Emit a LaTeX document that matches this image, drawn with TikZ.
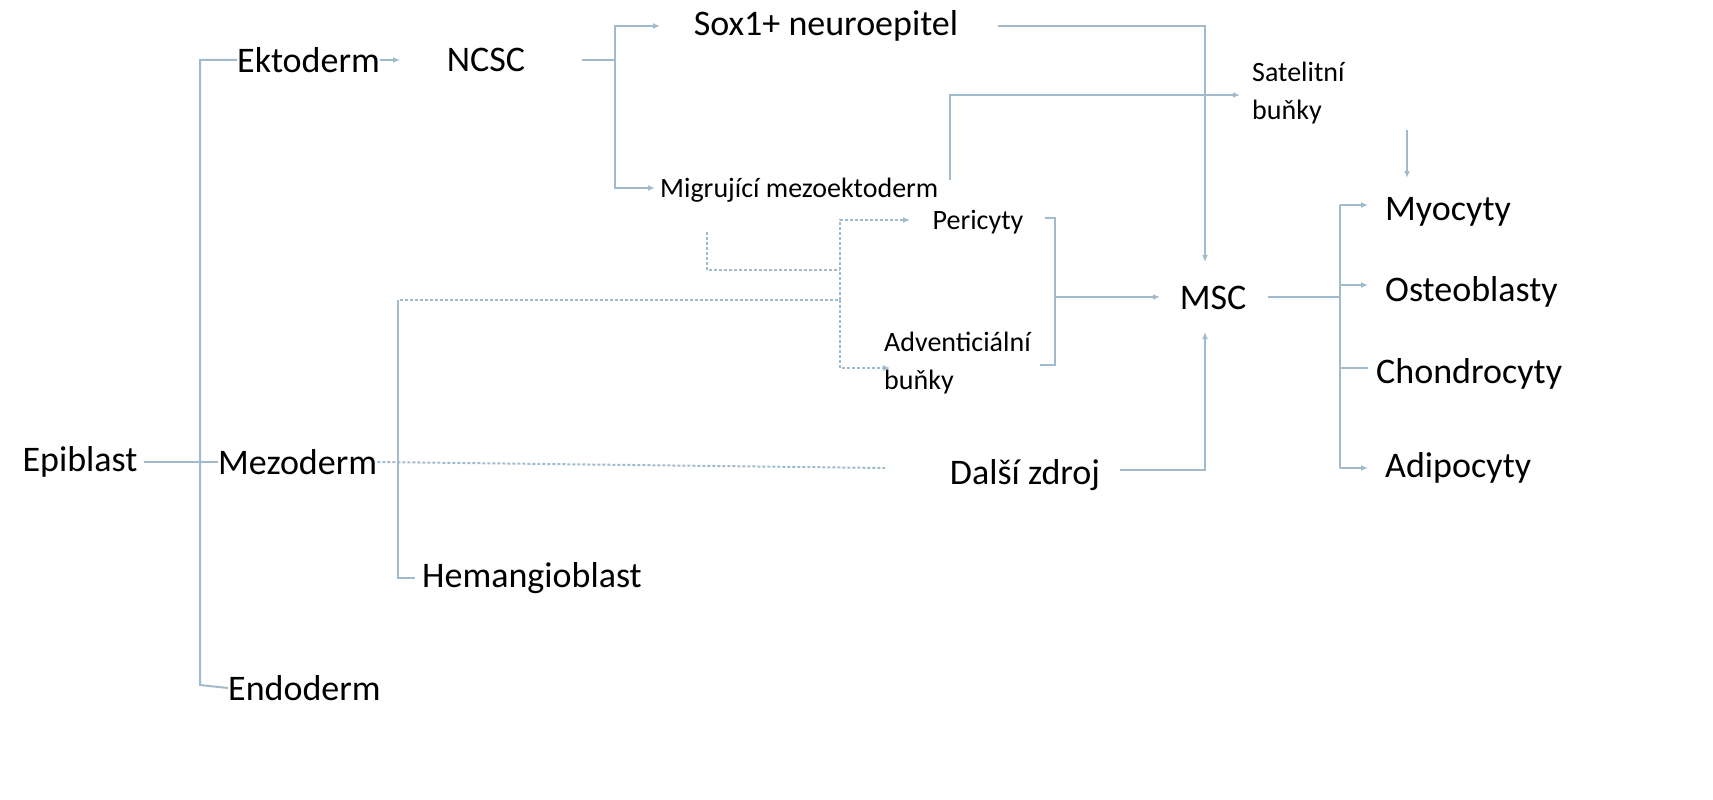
\documentclass[tikz,border=0pt]{standalone}
\usepackage{fontspec}
\setmainfont{Carlito}
\usetikzlibrary{arrows.meta}
\definecolor{ln}{RGB}{160,186,206}
\begin{document}
\begin{tikzpicture}[x=1pt,y=-1pt,
 big/.style={font=\fontsize{36}{40}\selectfont,inner sep=0pt},
 sm/.style={font=\fontsize{28}{38}\selectfont,inner sep=0pt},
 l/.style={draw=ln,line width=2pt},
 a/.style={l,-{Latex[length=7pt,width=6pt]}},
 d/.style={draw=ln,line width=2pt,dash pattern=on 3pt off 2pt},
 da/.style={d,-{Latex[length=7pt,width=6pt]}}]
\useasboundingbox (0,0) rectangle (1713,800);
\node[big] (epi) at (80,462) {Epiblast};
\node[big,anchor=west] (ekt) at (237,60) {Ektoderm};
\node[big,anchor=west] (mez) at (218,462) {Mezoderm};
\node[big,anchor=west] (endo) at (228,688) {Endoderm};
\node[big] (ncsc) at (486,60) {NCSC};
\node[big] (sox) at (826,26) {Sox1+ neuroepitel};
\node[sm,align=left,anchor=north west] (sat) at (1252,62) {Satelitní\\buňky};
\node[sm,anchor=west] (mig) at (660,190) {Migrující mezoektoderm};
\node[sm] (per) at (978,222) {Pericyty};
\node[sm,align=left,anchor=north west] (adv) at (884,332) {Adventiciální\\buňky};
\node[big] (msc) at (1213,298) {MSC};
\node[big] (dal) at (1025,475) {Další zdroj};
\node[big] (hem) at (532,578) {Hemangioblast};
\node[big,anchor=west] (myo) at (1385,212) {Myocyty};
\node[big,anchor=west] (ost) at (1385,292) {Osteoblasty};
\node[big,anchor=west] (cho) at (1376,374) {Chondrocyty};
\node[big,anchor=west] (adi) at (1385,468) {Adipocyty};
\draw[l] (epi.east) ++(6,0) -- (mez.west);
\draw[l] (ekt.west) -| (200,685) -- (endo.west);
\draw[a] (ekt.east) -- (400,60);
\draw[l] (582,60) -- (615,60);
\draw[a] (615,60) |- (660,26);
\draw[a] (615,60) |- (655,188);
\draw[a] (998,26) -| (1205,262);
\draw[a] (950,180) |- (1240,95);
\draw[a] (1407,130) -- (1407,178);
\draw[d] (707,232) |- (840,270);
\draw[da] (840,300) |- (910,220);
\draw[da] (840,300) |- (890,368);
\draw[d] (400,300) -- (840,300);
\draw[l] (398,300) -- (398,578) -- (415,578);
\draw[d] (mez.east) -- (885,468);
\draw[l] (1045,218) -- (1055,218) -- (1055,365) -- (1040,365);
\draw[a] (1055,297) -- (1160,297);
\draw[a] (1120,470) -| (1205,332);
\draw[l] (1268,297) -- (1340,297);
\draw[l] (1340,205) -- (1340,468);
\draw[a] (1340,205) -- (1368,205);
\draw[a] (1340,285) -- (1368,285);
\draw[l] (1340,368) -- (1368,368);
\draw[a] (1340,468) -- (1368,468);
\end{tikzpicture}
\end{document}
